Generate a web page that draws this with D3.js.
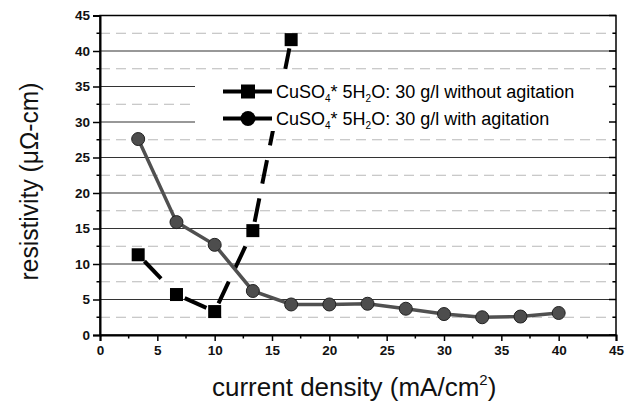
<!DOCTYPE html>
<html>
<head>
<meta charset="utf-8">
<script src="https://cdn.jsdelivr.net/npm/d3@7"></script>
<style>
  body { margin: 0; background: #fff; }
  svg { display: block; font-family: "Liberation Sans", Arial, sans-serif; }
</style>
</head>
<body>
<div id="chart"></div>
<script>
var width = 631,
    height = 410;

// current density (mA/cm2) vs resistivity (uOhm-cm)
const noAgitationX = [3.33, 6.67, 10, 13.33, 16.67];
const noAgitationY = [11.3, 5.7, 3.3, 14.7, 41.6];
const agitationX = [3.33, 6.67, 10, 13.33, 16.67, 20, 23.33, 26.67, 30, 33.33, 36.67, 40];
const agitationY = [27.6, 15.9, 12.7, 6.2, 4.3, 4.3, 4.4, 3.7, 2.95, 2.5, 2.6, 3.1];
const xTicks = [0, 5, 10, 15, 20, 25, 30, 35, 40, 45];
const yTicks = [0, 5, 10, 15, 20, 25, 30, 35, 40, 45];

var margin = {left: 100, right: 15, top: 15.5, bottom: 75};

var x = d3.scaleLinear().domain([0, 45]).range([margin.left, width - margin.right]);
var y = d3.scaleLinear().domain([0, 45]).range([height - margin.bottom, margin.top]);

var svg = d3.select('#chart').append('svg')
  .attr('width', width)
  .attr('height', height);

// grid: dashed minor lines, then solid major lines
var minor = d3.range(2.5, 45, 5);
svg.append('g').selectAll('line').data(minor).join('line')
  .attr('x1', x(0)).attr('x2', x(45))
  .attr('y1', d => y(d)).attr('y2', d => y(d))
  .attr('stroke', '#b8b8b8').attr('stroke-width', 1)
  .attr('stroke-dasharray', '10,6');

svg.append('g').selectAll('line').data(yTicks.filter(d => d > 0 && d < 45)).join('line')
  .attr('x1', x(0)).attr('x2', x(45))
  .attr('y1', d => y(d)).attr('y2', d => y(d))
  .attr('stroke', '#333').attr('stroke-width', 1.1);

var line = d3.line().x(d => x(d[0])).y(d => y(d[1]));
var sqData = noAgitationX.map((d, i) => [d, noAgitationY[i]]);
var ciData = agitationX.map((d, i) => [d, agitationY[i]]);

// without agitation - black dashed, drawn per segment with a gap at each symbol
var gap = 9;
d3.pairs(sqData).forEach(p => {
  var x1 = x(p[0][0]), y1 = y(p[0][1]), x2 = x(p[1][0]), y2 = y(p[1][1]);
  var len = Math.hypot(x2 - x1, y2 - y1);
  var ux = (x2 - x1) / len, uy = (y2 - y1) / len;
  svg.append('line')
    .attr('x1', x1 + ux * gap).attr('y1', y1 + uy * gap)
    .attr('x2', x2 - ux * gap).attr('y2', y2 - uy * gap)
    .attr('stroke', '#000')
    .attr('stroke-width', 4)
    .attr('stroke-dasharray', '24,15');
});

// legend box hides the grid and the line behind it
svg.append('rect')
  .attr('x', 195).attr('y', 76)
  .attr('width', x(45) - 196).attr('height', 55)
  .attr('fill', '#fff');

svg.append('g').selectAll('rect').data(sqData).join('rect')
  .attr('x', d => x(d[0]) - 6.5).attr('y', d => y(d[1]) - 6.5)
  .attr('width', 13).attr('height', 13)
  .attr('fill', '#000');

// with agitation - grey solid with circles
svg.append('path').datum(ciData)
  .attr('d', line)
  .attr('fill', 'none')
  .attr('stroke', '#505050')
  .attr('stroke-width', 3.5);

svg.append('g').selectAll('circle').data(ciData).join('circle')
  .attr('cx', d => x(d[0])).attr('cy', d => y(d[1]))
  .attr('r', 6.5)
  .attr('fill', '#4d4d4d')
  .attr('stroke', '#222').attr('stroke-width', 1);

// frame
svg.append('rect')
  .attr('x', x(0)).attr('y', y(45))
  .attr('width', x(45) - x(0)).attr('height', y(0) - y(45))
  .attr('fill', 'none').attr('stroke', '#000').attr('stroke-width', 1.5);

// axes
var xAxis = d3.axisBottom(x).tickValues(xTicks).tickSize(6).tickPadding(4);
var gx = svg.append('g').attr('transform', 'translate(0,' + y(0) + ')').call(xAxis);
var yAxis = d3.axisLeft(y).tickValues(yTicks).tickSize(7).tickPadding(3);
var gy = svg.append('g').attr('transform', 'translate(' + x(0) + ',0)').call(yAxis);

[gx, gy].forEach(g => {
  g.select('.domain').attr('stroke', '#000').attr('stroke-width', 2);
  g.selectAll('.tick line').attr('stroke', '#000').attr('stroke-width', 1.5);
  g.selectAll('.tick text')
    .attr('font-size', 13.5).attr('font-weight', 'bold')
    .attr('font-family', '"Liberation Sans", Arial, sans-serif')
    .attr('fill', '#111');
});

// minor ticks
svg.append('g').selectAll('line').data(minor).join('line')
  .attr('x1', d => x(d)).attr('x2', d => x(d))
  .attr('y1', y(0)).attr('y2', y(0) + 3.5)
  .attr('stroke', '#000').attr('stroke-width', 1.5);
svg.append('g').selectAll('line').data(minor).join('line')
  .attr('x1', x(0) - 3.5).attr('x2', x(0))
  .attr('y1', d => y(d)).attr('y2', d => y(d))
  .attr('stroke', '#000').attr('stroke-width', 1.5);
// right axis ticks, inward
svg.append('g').selectAll('line').data(yTicks).join('line')
  .attr('x1', x(45) - 7).attr('x2', x(45))
  .attr('y1', d => y(d)).attr('y2', d => y(d))
  .attr('stroke', '#000').attr('stroke-width', 1.5);
svg.append('g').selectAll('line').data(minor).join('line')
  .attr('x1', x(45) - 3.5).attr('x2', x(45))
  .attr('y1', d => y(d)).attr('y2', d => y(d))
  .attr('stroke', '#000').attr('stroke-width', 1.5);

// axis titles
var xt = svg.append('text')
  .attr('x', 212).attr('y', 396)
  .attr('font-size', 26)
  .attr('fill', '#111');
xt.append('tspan').text('current density (mA/cm');
xt.append('tspan').attr('dy', -11).attr('font-size', 15).text('2');
xt.append('tspan').attr('dy', 11).text(')');

svg.append('text')
  .attr('transform', 'translate(37.5,' + 181.5 + ') rotate(-90)')
  .attr('text-anchor', 'middle')
  .attr('font-size', 26)
  .attr('textLength', 198)
  .attr('lengthAdjust', 'spacingAndGlyphs')
  .attr('fill', '#111')
  .text('resistivity (\u03bc\u03a9-cm)');

// legend
var legend = [
  {tail: 'O: 30 g/l without agitation', sym: 'square', yy: 91.5},
  {tail: 'O: 30 g/l with agitation', sym: 'circle', yy: 118.5}
];
legend.forEach(l => {
  var g = svg.append('g');
  g.append('line')
    .attr('x1', 223).attr('x2', 272)
    .attr('y1', l.yy).attr('y2', l.yy)
    .attr('stroke', '#000')
    .attr('stroke-width', 4);
  if (l.sym === 'square') {
    g.append('rect').attr('x', 241).attr('y', l.yy - 7)
      .attr('width', 14).attr('height', 14).attr('fill', '#000');
  } else {
    g.append('circle').attr('cx', 248).attr('cy', l.yy).attr('r', 7.5).attr('fill', '#000');
  }
  var t = g.append('text')
    .attr('x', 276).attr('y', l.yy + 6.5)
    .attr('font-size', 18)
    .attr('fill', '#000');
  t.append('tspan').text('CuSO');
  t.append('tspan').attr('dy', 4).attr('font-size', 10).text('4');
  t.append('tspan').attr('dy', -4).text('* 5H');
  t.append('tspan').attr('dy', 4).attr('font-size', 10).text('2');
  t.append('tspan').attr('dy', -4).text(l.tail);
});
</script>
</body>
</html>
